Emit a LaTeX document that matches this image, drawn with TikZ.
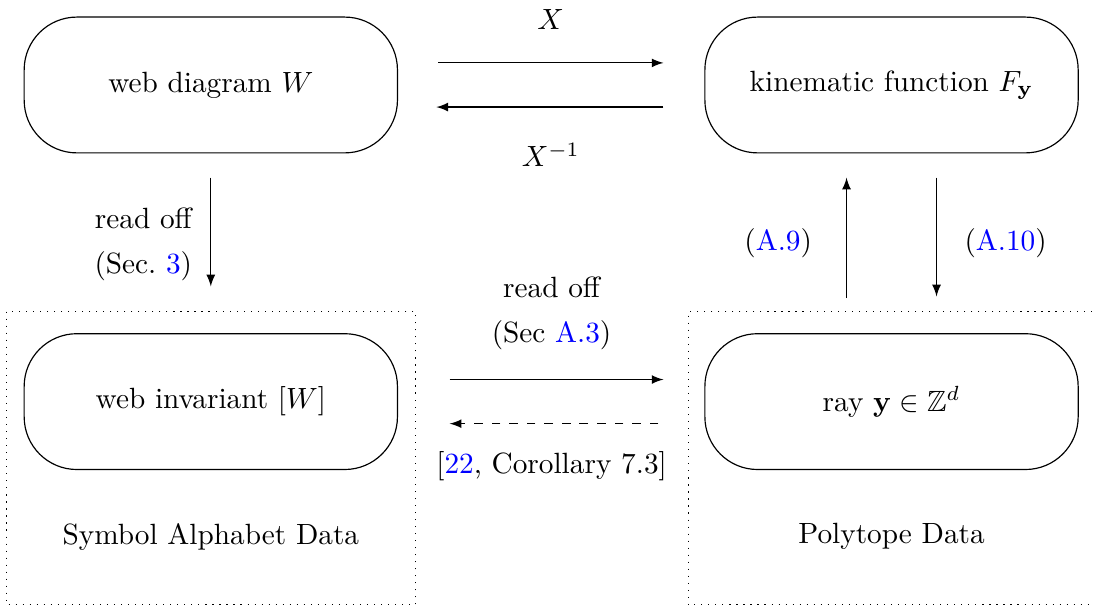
\documentclass[tikz,border=0pt]{standalone}
\usepackage{amsmath,amssymb}
\usetikzlibrary{positioning}

\begin{document}
\begin{tikzpicture}[
    webbox/.style={draw, rounded corners=18pt, minimum width=4.48cm, minimum height=1.63cm},
    databox/.style={draw, dotted},
    lab/.style={align=center}
  ]
      \useasboundingbox (0,0) rectangle (13.13,-7.28);
      \def\dy{0.265cm}
      % data regions
      \draw[databox] (0.08,-3.74) rectangle (4.99,-7.26);
      \draw[databox] (14.2,-3.74) -- (8.26,-3.74) -- (8.26,-7.26) -- (14.2,-7.26);
      \node (symdata) at (2.53,-6.44) {Symbol Alphabet Data};
      \node (polydata) at (10.70,-6.44) {Polytope Data};
      % the four objects
      \node[webbox] (W) at (2.53,-1.02) {web diagram $W$};
      \node[webbox] (F) at (10.70,-1.02) {kinematic function $F_{\mathbf{y}}$};
      \node[webbox] (inv) at (2.53,-4.82) {web invariant $[W]$};
      \node[webbox] (ray) at (10.70,-4.82) {ray $\mathbf{y}\in\mathbb{Z}^d$};
      % maps on top
      \draw[-latex, shorten <=0.48cm, shorten >=0.49cm] ([yshift=\dy]W.east) -- ([yshift=\dy]F.west);
      \draw[-latex, shorten <=0.49cm, shorten >=0.46cm] ([yshift=-\dy]F.west) -- ([yshift=-\dy]W.east);
      \node (X) at (6.61,-0.24) {$X$};
      \node (Xinv) at (6.61,-1.86) {$X^{-1}$};
      % left
      \draw[-latex, shorten <=0.29cm, shorten >=0.56cm] (W.south) -- (inv.north);
      \node[lab] (readW) at (1.72,-2.93) {read off\\[3.4pt](Sec.~\textcolor{blue}{3})};
      % right
      \draw[-latex, shorten <=0.42cm, shorten >=0.29cm] ([xshift=-0.54cm]ray.north) -- ([xshift=-0.54cm]F.south);
      \draw[-latex, shorten <=0.29cm, shorten >=0.44cm] ([xshift=0.54cm]F.south) -- ([xshift=0.54cm]ray.north);
      \node (A9) at (9.34,-2.92) {(\textcolor{blue}{A.9})};
      \node (A10) at (12.07,-2.92) {(\textcolor{blue}{A.10})};
      % bottom
      \draw[-latex, shorten <=0.62cm, shorten >=0.49cm] ([yshift=\dy]inv.east) -- ([yshift=\dy]ray.west);
      \draw[-latex, dashed, shorten <=0.55cm, shorten >=0.62cm] ([yshift=-\dy]ray.west) -- ([yshift=-\dy]inv.east);
      \node[lab] (readinv) at (6.62,-3.76) {read off\\[3.4pt](Sec \textcolor{blue}{A.3})};
      \node (cor) at (6.62,-5.6) {[\textcolor{blue}{22}, Corollary 7.3]};
    \end{tikzpicture}
\end{document}
